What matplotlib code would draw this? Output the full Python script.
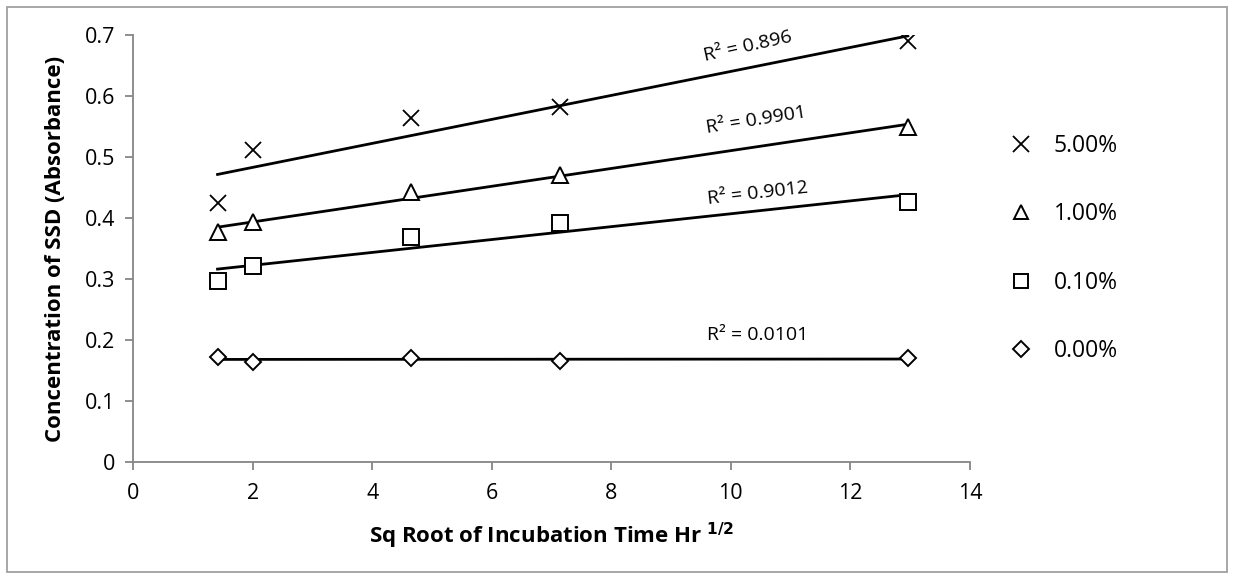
import matplotlib
matplotlib.use("Agg")
import matplotlib.pyplot as plt
import numpy as np
from matplotlib.patches import Rectangle
from matplotlib.lines import Line2D

plt.rcParams['font.family'] = ['Open Sans', 'DejaVu Sans']

# Data
x_vals = [1.414, 2.0, 4.65, 7.14, 12.96]
series_labels = ["5.00%", "1.00%", "0.10%", "0.00%"]
y_5 = [0.425, 0.511, 0.564, 0.582, 0.690]
y_1 = [0.377, 0.393, 0.443, 0.470, 0.550]
y_01 = [0.297, 0.321, 0.369, 0.391, 0.426]
y_0 = [0.172, 0.164, 0.171, 0.165, 0.170]
r2_labels = ["R² = 0.896", "R² = 0.9901", "R² = 0.9012", "R² = 0.0101"]
r2_pos = [(10.28, 0.682), (10.42, 0.560), (10.45, 0.440), (10.45, 0.208)]
r2_rot = [12.5, 9.0, 6.5, 0]
x_ticks = [0, 2, 4, 6, 8, 10, 12, 14]
y_ticks = [0, 0.1, 0.2, 0.3, 0.4, 0.5, 0.6, 0.7]

W, H = 1234, 579
fig = plt.figure(figsize=(W/100, H/100), dpi=100)
ax = fig.add_axes([133/W, 1-462/H, (970-133)/W, (462-35)/H])

markers = ['x', '^', 's', 'D']
msizes = [12, 11, 11, 8.5]
series = [y_5, y_1, y_01, y_0]
xa = np.array(x_vals)
handles = []
for ys, m, ms, lab, txt, pos, rot in zip(series, markers, msizes, series_labels, r2_labels, r2_pos, r2_rot):
    ya = np.array(ys)
    if m == 'x':
        ax.plot(xa, ya, linestyle='none', marker=m, markersize=ms, color='black', markeredgewidth=1.3, zorder=3)
    else:
        ax.plot(xa, ya, linestyle='none', marker=m, markersize=ms, markerfacecolor='white',
                markeredgecolor='black', markeredgewidth=1.4, zorder=3)
    p = np.polyfit(xa, ya, 1)
    xl = np.array([xa.min(), xa.max()])
    ax.plot(xl, np.polyval(p, xl), color='black', linewidth=2.0, zorder=2)
    ax.text(pos[0], pos[1], txt, rotation=rot, ha='center', va='center', fontsize=14,
            rotation_mode='anchor')
    if m == 'x':
        h = Line2D([], [], linestyle='none', marker=m, markersize=ms, color='black', markeredgewidth=1.3)
    else:
        h = Line2D([], [], linestyle='none', marker=m, markersize=ms*0.9, markerfacecolor='white',
                   markeredgecolor='black', markeredgewidth=1.4)
    handles.append(h)

ax.set_xlim(0, 14)
ax.set_ylim(0, 0.7)
ax.set_xticks(x_ticks)
ax.set_yticks(y_ticks)
ax.set_xticklabels([str(t) for t in x_ticks])
ax.set_yticklabels(['0'] + [f"{t:.1f}" for t in y_ticks[1:]])
for s in ['top', 'right']:
    ax.spines[s].set_visible(False)
for s in ['left', 'bottom']:
    ax.spines[s].set_color('#868686')
    ax.spines[s].set_linewidth(1.3)
ax.tick_params(axis='both', direction='out', length=6, width=1.3, color='#868686', labelsize=15.5)
ax.tick_params(axis='x', pad=9)
ax.tick_params(axis='y', pad=7)

ax.set_xlabel("Sq Root of Incubation Time Hr $^{\\mathbf{1/2}}$", fontsize=16, fontweight='bold', labelpad=12)
ax.set_ylabel("Concentration of SSD (Absorbance)", fontsize=16, fontweight='bold', labelpad=13)

leg = fig.legend(handles, series_labels, loc='upper left', bbox_to_anchor=(987/W, 1-113/H),
                 frameon=False, fontsize=16.5, labelspacing=1.94, handletextpad=0.8, handlelength=1.2)

fig.patches.append(Rectangle((7/W, 1-572/H), (1227-7)/W, (572-7)/H, transform=fig.transFigure,
                             fill=False, edgecolor='#a0a0a0', linewidth=1.3))

fig.savefig("out.png", dpi=100)
